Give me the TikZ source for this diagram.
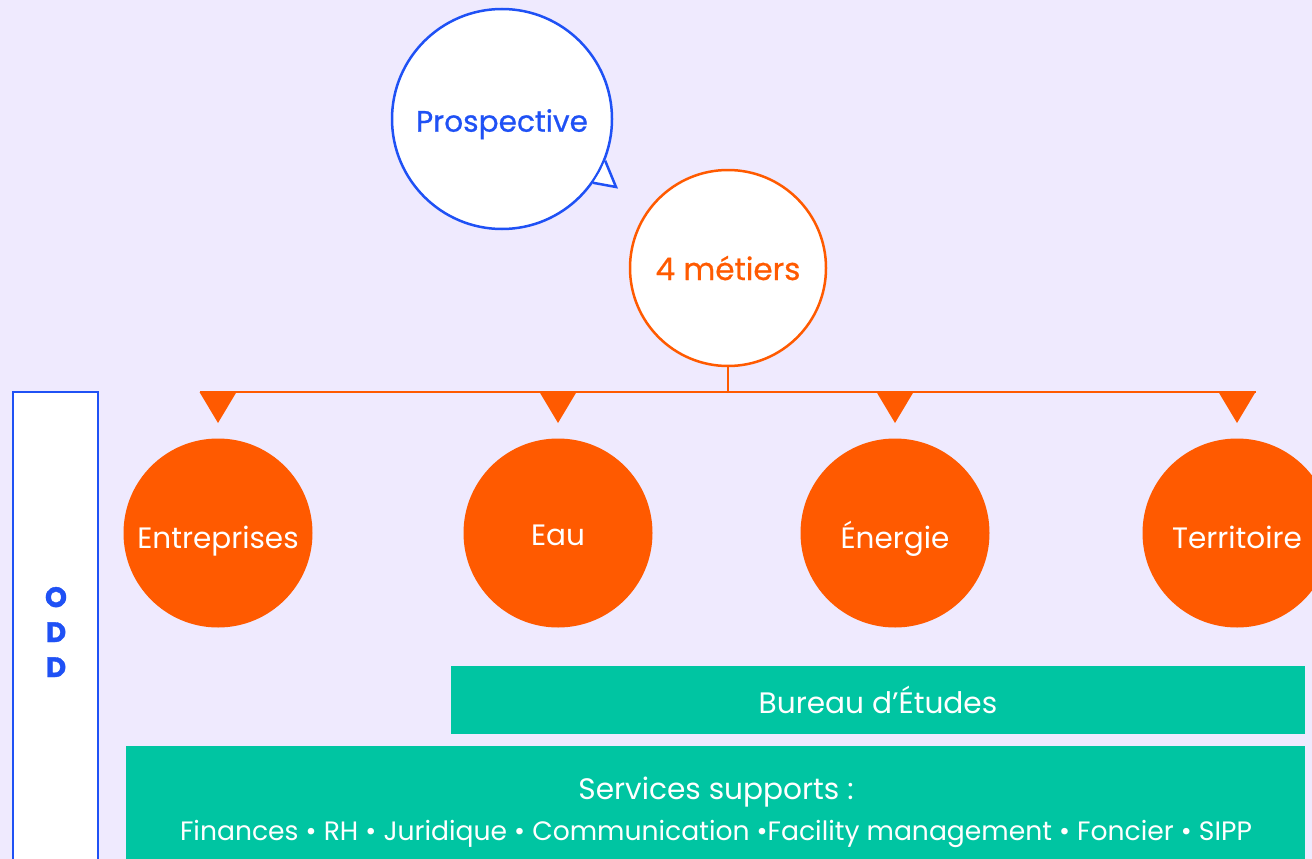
\documentclass[tikz,border=0pt]{standalone}
\usepackage{fontspec}
\setmainfont{Poppins}
\newfontfamily\pmed{Poppins}[FakeBold=0.7]
\newfontfamily\pheavy{Poppins}[BoldFeatures={FakeBold=1.2}]
\definecolor{bgc}{HTML}{EFEAFE}
\definecolor{bluc}{HTML}{1F51F5}
\definecolor{orgc}{HTML}{FF5A00}
\definecolor{tealc}{HTML}{00C5A2}
\begin{document}
\begin{tikzpicture}[x=1pt,y=-1pt,
  bubble/.style={circle,draw=bluc,fill=white,line width=2.5pt,minimum size=220pt,inner sep=0pt,text=bluc,text height=25.4pt,text depth=0pt,font=\pmed\fontsize{29.6}{32}\selectfont},
  ring/.style={circle,draw=orgc,fill=white,line width=2.5pt,minimum size=196pt,inner sep=0pt,text=orgc,text height=24pt,text depth=0pt,font=\pmed\fontsize{31}{34}\selectfont},
  metier/.style={circle,fill=orgc,minimum size=189pt,inner sep=0pt,text=white,text height=30pt,text depth=0pt,font=\fontsize{29.5}{32}\selectfont},
  band/.style={fill=tealc,draw=none},
  bandtext/.style={text=white,inner sep=0pt,anchor=base,font=\fontsize{29.6}{32}\selectfont},
  oddtext/.style={text=bluc,inner sep=0pt,anchor=base,font=\pheavy\fontsize{28}{32}\bfseries\selectfont},
  link/.style={draw=orgc,line width=2.5pt},
  tip/.style={fill=orgc}
]
\fill[bgc] (0,0) rectangle (1312,859);
\useasboundingbox (0,0) rectangle (1312,859);

% speech bubble
\node[bubble] (prosp) at (502,119) {Prospective};
\coordinate (tailtip) at (616,187);
\fill[white] (prosp.-22) -- (tailtip) -- (prosp.-35) -- (prosp.-28) ++(-6,-2) -- cycle;
\draw[bluc,line width=2.5pt,line join=miter] (prosp.-22) -- (tailtip) -- (prosp.-35);

% 4 metiers
\node[ring] (met) at (728,268) {4 métiers};
\coordinate (barL) at (200,392);
\coordinate (barR) at (1256,392);
\draw[link] (met.south) -- (met.south |- barL);
\draw[link] (barL) -- (barR);

% metier circles
\node[metier] (ent) at (218,533) {Entreprises};
\node[metier,text height=24pt] (eau) at (558,533) {Eau};
\node[metier] (ene) at (895,533) {Énergie};
\node[metier] (ter) at (1237,533) {Territoire};

\foreach \n in {ent,eau,ene,ter}{
  \fill[tip] (\n.north |- barL) ++(-18.5,0) -- ++(37,0) -- ++(-18.5,31) -- cycle;
}

% ODD
\draw[bluc,fill=white,line width=2pt] (13,392) rectangle (98,880);
\node[oddtext] (odd1) at (56,607) {O};
\node[oddtext] (odd2) at (56,642) {D};
\node[oddtext] (odd3) at (56,677) {D};

% bands
\fill[band] (451,666) rectangle (1305,734);
\node[bandtext] (be) at (878,713) {Bureau d’Études};
\fill[band] (126,746) rectangle (1305,880);
\node[bandtext] (ss) at (716,799) {Services supports :};
\node[bandtext,font=\fontsize{26.6}{30}\selectfont] (sl) at (716,840) {Finances • RH • Juridique • Communication •Facility management • Foncier • SIPP};
\end{tikzpicture}
\end{document}
